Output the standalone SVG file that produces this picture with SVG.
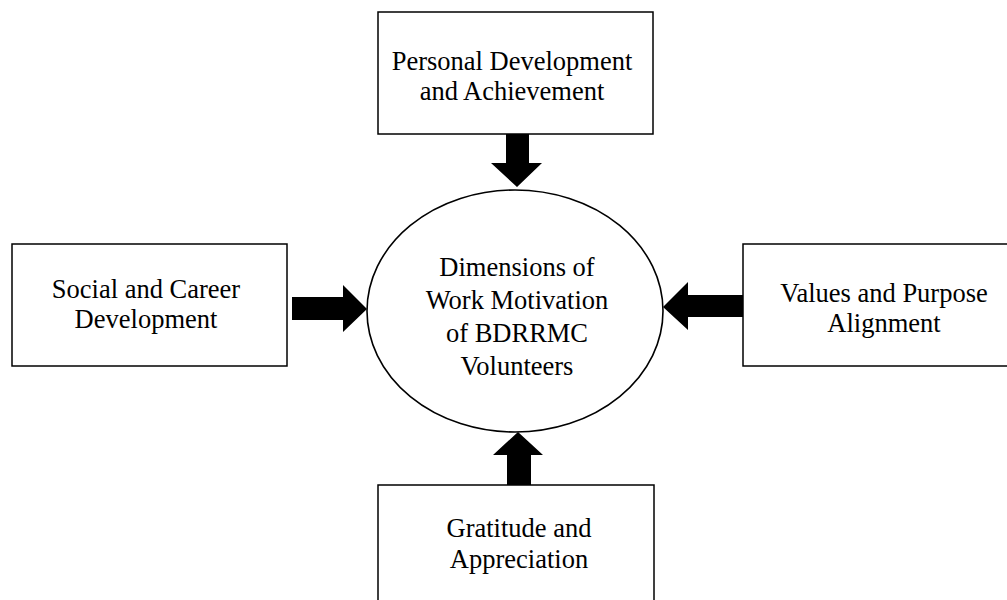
<svg xmlns="http://www.w3.org/2000/svg" width="1007" height="600" viewBox="0 0 1007 600">
  <style>
    .box { fill: #ffffff; stroke: #000000; stroke-width: 1.5; }
    .hub { fill: #ffffff; stroke: #000000; stroke-width: 1.6; }
    .lbl { font-family: "Liberation Serif", "Times New Roman", serif; font-size: 26.5px; fill: #000000; text-anchor: middle; }
    .arrow { fill: #000000; stroke: none; }
  </style>
  <rect width="1007" height="600" fill="#ffffff"/>

  <!-- central concept -->
  <g id="hub">
    <ellipse class="hub" cx="515" cy="311" rx="148" ry="121"/>
    <text class="lbl" x="517" y="276">Dimensions of</text>
    <text class="lbl" x="517" y="309">Work Motivation</text>
    <text class="lbl" x="517" y="342">of BDRRMC</text>
    <text class="lbl" x="517" y="375">Volunteers</text>
  </g>

  <!-- surrounding dimensions -->
  <g id="personal">
    <rect class="box" x="378" y="12" width="275" height="122"/>
    <text class="lbl" x="512" y="70">Personal Development</text>
    <text class="lbl" x="512" y="100">and Achievement</text>
  </g>
  <g id="social">
    <rect class="box" x="12" y="244" width="275" height="122"/>
    <text class="lbl" x="146" y="298">Social and Career</text>
    <text class="lbl" x="146" y="328">Development</text>
  </g>
  <g id="values">
    <rect class="box" x="743" y="244" width="282" height="122"/>
    <text class="lbl" x="884" y="302">Values and Purpose</text>
    <text class="lbl" x="884" y="332">Alignment</text>
  </g>
  <g id="gratitude">
    <rect class="box" x="378" y="485" width="276" height="125"/>
    <text class="lbl" x="519" y="537">Gratitude and</text>
    <text class="lbl" x="519" y="568">Appreciation</text>
  </g>

  <!-- block arrows pointing into the hub -->
  <g id="connectors">
    <polygon class="arrow" points="506,134 529,134 529,163 542,163 517,187 491,163 506,163"/>
    <polygon class="arrow" points="292,297 343,297 343,285 367,309 343,332 343,320 292,320"/>
    <polygon class="arrow" points="743,295 688,295 688,282 663,307 688,330 688,317 743,317"/>
    <polygon class="arrow" points="507,485 531,485 531,455 543,455 518,432 493,455 507,455"/>
  </g>
</svg>
